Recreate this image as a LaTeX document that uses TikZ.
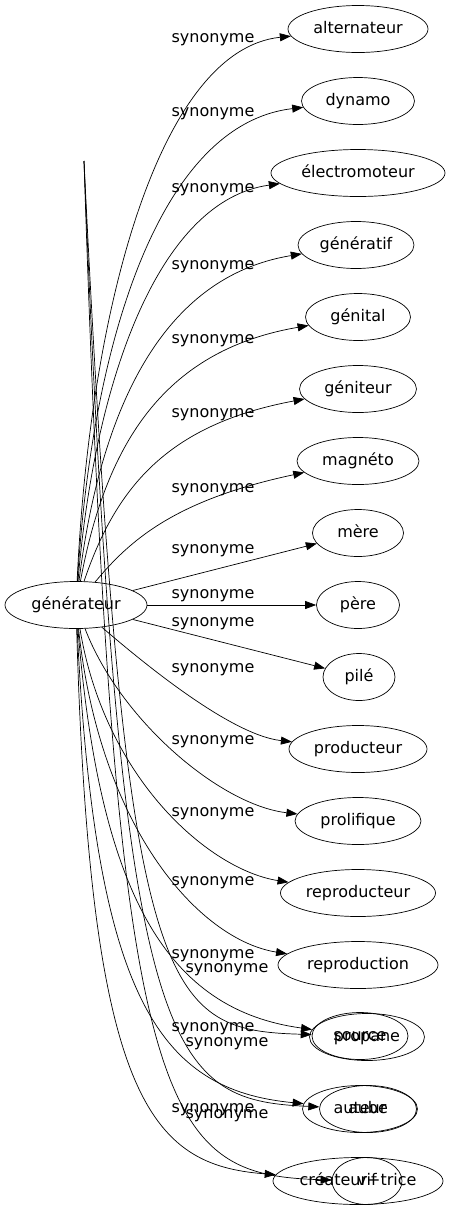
\documentclass[tikz,border=0pt]{standalone}
\usepackage{fontspec}
\setmainfont{DejaVu Sans}
\usetikzlibrary{shapes.geometric,arrows.meta}

\begin{document}
\begin{tikzpicture}[
        x=1pt, y=-1pt,
        word/.style={ellipse, draw, line width=0.7pt, inner sep=0pt, minimum height=47pt, text height=12pt, text depth=4pt, font=\fontsize{16}{19}\selectfont},
        rel/.style={inner sep=0pt, text height=12pt, text depth=4pt, font=\fontsize{16}{19}\selectfont},
        arrow/.style={line width=0.7pt, -{Triangle[length=11pt,width=8pt]}}
    ]
        \useasboundingbox (0,0) rectangle (451,1211);

        \node[word, minimum width=142pt] (generateur) at (76,605) {générateur};
        \coordinate (top) at (84,161);

        \node[word, minimum width=140pt] (alternateur) at (358,29) {alternateur};
        \node[word, minimum width=113pt] (dynamo) at (358,101) {dynamo};
        \node[word, minimum width=174pt] (electromoteur) at (358,173) {électromoteur};
        \node[word, minimum width=116pt] (generatif) at (356,245) {génératif};
        \node[word, minimum width=105pt] (genital) at (358,317) {génital};
        \node[word, minimum width=117pt] (geniteur) at (358,389) {géniteur};
        \node[word, minimum width=122pt] (magneto) at (358,461) {magnéto};
        \node[word, minimum width=91pt] (mere) at (358,533) {mère};
        \node[word, minimum width=83pt] (pere) at (358,605) {père};
        \node[word, minimum width=72pt] (pile) at (359,677) {pilé};
        \node[word, minimum width=138pt] (producteur) at (358,749) {producteur};
        \node[word, minimum width=126pt] (prolifique) at (358,821) {prolifique};
        \node[word, minimum width=155pt] (reproducteur) at (358,893) {reproducteur};
        \node[word, minimum width=160pt] (reproduction) at (358,965) {reproduction};
        \node[word, minimum width=115pt] (propane) at (367,1037) {propane};
        \node[word, minimum width=96pt] (source) at (360,1036) {source};
        \node[word, minimum width=115pt] (auteur) at (360,1109) {auteur};
        \node[word, minimum width=97pt] (aube) at (368,1109) {aube};
        \node[word, minimum width=170pt] (createur) at (358,1181) {créateur−trice};
        \node[word, minimum width=70pt] (vif) at (367,1181) {vif};

        \draw[arrow] (generateur) .. controls (90,305) and (160,50) .. (alternateur) node[rel] at (213,38) {synonyme};
        \draw[arrow] (generateur) .. controls (92,341) and (160,124) .. (dynamo) node[rel] at (213,112) {synonyme};
        \draw[arrow] (generateur) .. controls (95,377) and (160,200) .. (electromoteur) node[rel] at (213,188) {synonyme};
        \draw[arrow] (generateur) .. controls (100,413) and (160,277) .. (generatif) node[rel] at (213,265) {synonyme};
        \draw[arrow] (generateur) .. controls (105,449) and (160,351) .. (genital) node[rel] at (213,339) {synonyme};
        \draw[arrow] (generateur) .. controls (115,490) and (165,425) .. (geniteur) node[rel] at (213,413) {synonyme};
        \draw[arrow] (generateur) .. controls (130,540) and (175,500) .. (magneto) node[rel] at (213,488) {synonyme};
        \draw[arrow] (generateur) -- (mere) node[rel] at (213,549) {synonyme};
        \draw[arrow] (generateur) -- (pere) node[rel] at (213,594) {synonyme};
        \draw[arrow] (generateur) -- (pile) node[rel] at (213,622) {synonyme};
        \draw[arrow] (generateur) .. controls (140,660) and (230,735) .. (producteur) node[rel] at (213,668) {synonyme};
        \draw[arrow] (generateur) .. controls (120,720) and (220,805) .. (prolifique) node[rel] at (213,740) {synonyme};
        \draw[arrow] (generateur) .. controls (105,780) and (210,870) .. (reproducteur) node[rel] at (213,812) {synonyme};
        \draw[arrow] (generateur) .. controls (100,830) and (200,940) .. (reproduction) node[rel] at (213,881) {synonyme};
        \draw[arrow] (generateur) .. controls (100,900) and (170,1010) .. (propane) node[rel] at (213,954) {synonyme};
        \draw[arrow] (top) .. controls (125,1000) and (160,1030) .. (source) node[rel] at (227,968) {synonyme};
        \draw[arrow] (generateur) .. controls (95,1000) and (160,1090) .. (auteur) node[rel] at (213,1027) {synonyme};
        \draw[arrow] (top) .. controls (120,1060) and (165,1100) .. (aube) node[rel] at (227,1042) {synonyme};
        \draw[arrow] (generateur) .. controls (90,1100) and (150,1165) .. (createur) node[rel] at (213,1108) {synonyme};
        \draw[arrow] (top) .. controls (115,1120) and (160,1175) .. (vif) node[rel] at (227,1114) {synonyme};
    \end{tikzpicture}
\end{document}
